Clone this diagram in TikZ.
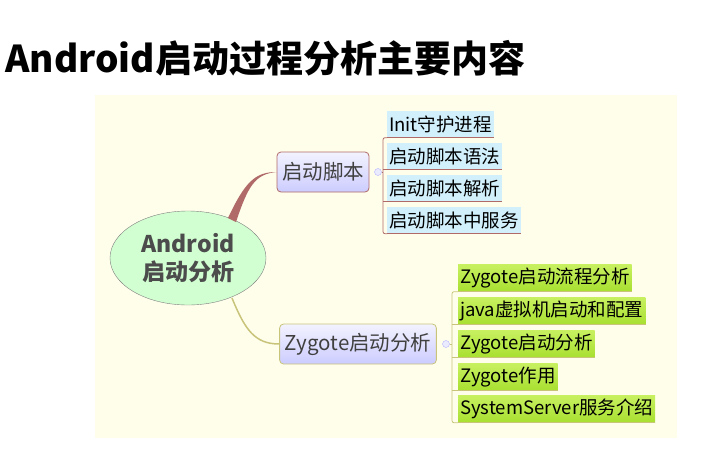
\documentclass[tikz,border=0pt]{standalone}
\usepackage{fontspec}
\setmainfont{Noto Sans CJK SC}
\usetikzlibrary{shapes.geometric}
\definecolor{brn}{HTML}{B06A68}
\definecolor{olv}{HTML}{C8C47A}
\definecolor{lg1}{HTML}{A8E030}
\definecolor{lg2}{HTML}{C8F060}
\begin{document}
\begin{tikzpicture}[x=1pt,y=-1pt,
  leafb/.style={anchor=west,fill=cyan!18!white,inner xsep=2pt,inner ysep=0pt,minimum height=27pt,font=\fontsize{18.5}{18.5}\selectfont},
  leafg/.style={anchor=west,top color=lg2,bottom color=lg1,inner xsep=2pt,inner ysep=0pt,minimum height=27pt,font=\fontsize{18.5}{18.5}\selectfont},
  mid/.style={rounded corners=4pt,top color=blue!5!white,bottom color=blue!20!white,line width=0.8pt,inner xsep=5pt,minimum height=40pt,font=\fontsize{20.5}{20.5}\selectfont,text=black!75},
  dot/.style={circle,draw=blue!30,fill=blue!8,inner sep=0pt,minimum size=7pt}]
\useasboundingbox (0,0) rectangle (702,472);
\fill[yellow!8!white] (95,95) rectangle (677,438);
\node[anchor=west,font=\bfseries\fontsize{37}{37}\selectfont] (title) at (2,58) {Android启动过程分析主要内容};
\node[ellipse,draw=gray,fill=green!18!white,minimum width=156pt,minimum height=94pt,align=center,font=\bfseries\fontsize{23}{28}\selectfont,text=black!70] (root) at (188,258) {Android\\启动分析};
\node[mid,draw=brn] (a) at (323,172) {启动脚本};
\node[mid,draw=olv] (b) at (358,344) {Zygote启动分析};
\node[dot] (da) at (378,172) {};
\node[dot] (db) at (446,344) {};
\fill[brn] (228,218) .. controls (245,182) and (255,172) .. (a.west) -- (a.west) .. controls (255,174) and (248,186) .. (236,222) -- cycle;
\draw[olv,line width=1.5pt] (232,298) .. controls (245,330) and (255,344) .. (b.west);
\node[leafb] (a1) at (387,124) {Init守护进程};
\node[leafb] (a2) at (387,156) {启动脚本语法};
\node[leafb] (a3) at (387,188) {启动脚本解析};
\node[leafb] (a4) at (387,220) {启动脚本中服务};
\foreach \n in {a1,a2,a3,a4} \draw[brn,line width=0.8pt] (\n.south west) -- (\n.south east);
\draw[brn,line width=0.8pt,rounded corners=2pt] (a1.south west) -| (383,172) |- (a4.south west);
\draw[brn,line width=0.8pt] (da) -- (383,172);
\foreach \n in {a2,a3} \draw[brn,line width=0.8pt] (383,0 |- \n.south) -- (\n.south west);
\node[leafg] (b1) at (458,278) {Zygote启动流程分析};
\node[leafg] (b2) at (458,311) {java虚拟机启动和配置};
\node[leafg] (b3) at (458,344) {Zygote启动分析};
\node[leafg] (b4) at (458,377) {Zygote作用};
\node[leafg] (b5) at (458,409) {SystemServer服务介绍};
\foreach \n in {b1,b2,b3,b4,b5} \draw[olv,line width=0.8pt] (\n.south west) -- (\n.south east);
\draw[olv,line width=0.8pt,rounded corners=2pt] (b1.south west) -| (452,344) |- (b5.south west);
\draw[olv,line width=0.8pt] (db) -- (452,344);
\foreach \n in {b2,b3,b4} \draw[olv,line width=0.8pt] (452,0 |- \n.south) -- (\n.south west);
\end{tikzpicture}
\end{document}
